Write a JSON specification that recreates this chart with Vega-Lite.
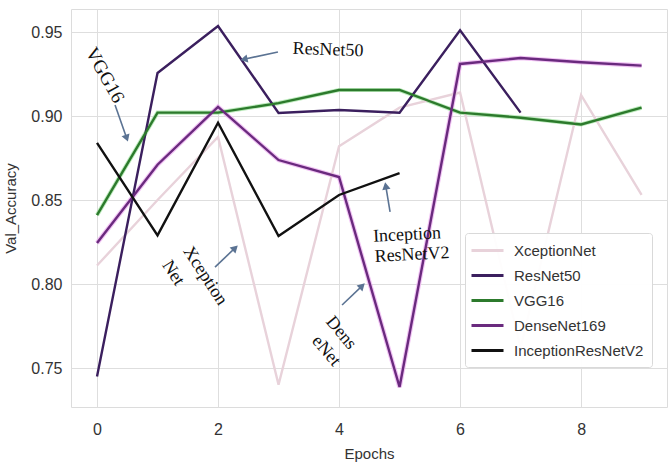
{
  "$schema": "https://vega.github.io/schema/vega-lite/v6.json",
  "width": 596,
  "height": 398,
  "autosize": {"type": "none"},
  "padding": {"left": 71, "top": 9, "right": 1, "bottom": 56},
  "background": "white",
  "datasets": {
    "acc": [
      {"epoch": 0, "model": "XceptionNet", "acc": 0.811},
      {"epoch": 1, "model": "XceptionNet", "acc": 0.850},
      {"epoch": 2, "model": "XceptionNet", "acc": 0.8875},
      {"epoch": 3, "model": "XceptionNet", "acc": 0.740},
      {"epoch": 4, "model": "XceptionNet", "acc": 0.882},
      {"epoch": 5, "model": "XceptionNet", "acc": 0.905},
      {"epoch": 6, "model": "XceptionNet", "acc": 0.914},
      {"epoch": 7, "model": "XceptionNet", "acc": 0.762},
      {"epoch": 8, "model": "XceptionNet", "acc": 0.9125},
      {"epoch": 9, "model": "XceptionNet", "acc": 0.853},
      {"epoch": 0, "model": "ResNet50", "acc": 0.745},
      {"epoch": 1, "model": "ResNet50", "acc": 0.9256},
      {"epoch": 2, "model": "ResNet50", "acc": 0.9536},
      {"epoch": 3, "model": "ResNet50", "acc": 0.9018},
      {"epoch": 4, "model": "ResNet50", "acc": 0.9036},
      {"epoch": 5, "model": "ResNet50", "acc": 0.902},
      {"epoch": 6, "model": "ResNet50", "acc": 0.951},
      {"epoch": 7, "model": "ResNet50", "acc": 0.902},
      {"epoch": 0, "model": "VGG16", "acc": 0.841},
      {"epoch": 1, "model": "VGG16", "acc": 0.902},
      {"epoch": 2, "model": "VGG16", "acc": 0.902},
      {"epoch": 3, "model": "VGG16", "acc": 0.9077},
      {"epoch": 4, "model": "VGG16", "acc": 0.9155},
      {"epoch": 5, "model": "VGG16", "acc": 0.9155},
      {"epoch": 6, "model": "VGG16", "acc": 0.902},
      {"epoch": 7, "model": "VGG16", "acc": 0.899},
      {"epoch": 8, "model": "VGG16", "acc": 0.895},
      {"epoch": 9, "model": "VGG16", "acc": 0.905},
      {"epoch": 0, "model": "DenseNet169", "acc": 0.8244},
      {"epoch": 1, "model": "DenseNet169", "acc": 0.871},
      {"epoch": 2, "model": "DenseNet169", "acc": 0.9054},
      {"epoch": 3, "model": "DenseNet169", "acc": 0.8738},
      {"epoch": 4, "model": "DenseNet169", "acc": 0.8637},
      {"epoch": 5, "model": "DenseNet169", "acc": 0.7387},
      {"epoch": 6, "model": "DenseNet169", "acc": 0.931},
      {"epoch": 7, "model": "DenseNet169", "acc": 0.9345},
      {"epoch": 8, "model": "DenseNet169", "acc": 0.932},
      {"epoch": 9, "model": "DenseNet169", "acc": 0.930},
      {"epoch": 0, "model": "InceptionResNetV2", "acc": 0.884},
      {"epoch": 1, "model": "InceptionResNetV2", "acc": 0.829},
      {"epoch": 2, "model": "InceptionResNetV2", "acc": 0.896},
      {"epoch": 3, "model": "InceptionResNetV2", "acc": 0.8286},
      {"epoch": 4, "model": "InceptionResNetV2", "acc": 0.853},
      {"epoch": 5, "model": "InceptionResNetV2", "acc": 0.866}
    ],
    "arrows": [
      {"x": 2.99, "y": 0.9381, "x2": 2.428, "y2": 0.9338, "heading": 258},
      {"x": 0.298, "y": 0.9065, "x2": 0.491, "y2": 0.8868, "heading": 161},
      {"x": 1.95, "y": 0.8101, "x2": 2.283, "y2": 0.8215, "heading": 46},
      {"x": 4.05, "y": 0.7875, "x2": 4.382, "y2": 0.7989, "heading": 46},
      {"x": 4.843, "y": 0.8429, "x2": 4.772, "y2": 0.8584, "heading": 350}
    ]
  },
  "encoding": {
    "x": {
      "field": "epoch", "type": "quantitative",
      "scale": {"domain": [-0.43, 9.42], "nice": false, "zero": false},
      "axis": {"values": [0, 2, 4, 6, 8], "title": "Epochs", "titlePadding": 9, "labelPadding": 14}
    },
    "y": {
      "field": "acc", "type": "quantitative",
      "scale": {"domain": [0.7268, 0.9637], "nice": false, "zero": false},
      "axis": {"values": [0.75, 0.8, 0.85, 0.9, 0.95], "format": ".2f", "title": "Val_Accuracy", "titlePadding": 12, "labelPadding": 9}
    }
  },
  "layer": [
    {
      "data": {"name": "acc"},
      "transform": [{"filter": "datum.model === 'DenseNet169'"}],
      "mark": {"type": "line", "color": "#eeb8f2", "strokeWidth": 4.6, "opacity": 0.85}
    },
    {
      "data": {"name": "acc"},
      "transform": [{"filter": "datum.model === 'VGG16'"}],
      "mark": {"type": "line", "color": "#9fe39f", "strokeWidth": 4.2, "opacity": 0.7}
    },
    {
      "data": {"name": "acc"},
      "mark": {"type": "line", "strokeWidth": 2.4},
      "encoding": {
        "color": {
          "field": "model", "type": "nominal",
          "scale": {
            "domain": ["XceptionNet", "ResNet50", "VGG16", "DenseNet169", "InceptionResNetV2"],
            "range": ["#e8d2da", "#3b1f5e", "#2c7a2c", "#6a2a7e", "#111111"]
          },
          "legend": {
            "title": null,
            "orient": "none",
            "legendX": 394,
            "legendY": 224,
            "padding": 8,
            "rowPadding": 7,
            "symbolType": "M-1.375,0L2.625,0",
            "symbolSize": 256,
            "symbolStrokeWidth": 3,
            "symbolFillColor": "transparent",
            "labelFontSize": 15,
            "labelOffset": 22,
            "labelColor": "#333333",
            "labelFont": "Liberation Sans",
            "labelLimit": 300,
            "fillColor": "rgba(255,255,255,0.95)",
            "strokeColor": "#d9d9d9",
            "cornerRadius": 3
          }
        }
      }
    },
    {
      "data": {"name": "arrows"},
      "mark": {"type": "rule", "color": "#5b7393", "strokeWidth": 1.6},
      "encoding": {
        "x": {"field": "x", "type": "quantitative"},
        "y": {"field": "y", "type": "quantitative"},
        "x2": {"field": "x2"},
        "y2": {"field": "y2"}
      }
    },
    {
      "data": {"name": "arrows"},
      "mark": {"type": "point", "shape": "triangle-up", "filled": true, "color": "#5b7393", "size": 70, "opacity": 1},
      "encoding": {
        "x": {"field": "x2", "type": "quantitative"},
        "y": {"field": "y2", "type": "quantitative"},
        "angle": {"field": "heading", "type": "quantitative", "scale": null}
      }
    },
    {
      "data": {"values": [{"x": 3.818, "y": 0.9393, "label": "ResNet50"}]},
      "mark": {"type": "text", "font": "Liberation Serif", "fontSize": 18, "color": "#111111", "align": "center", "baseline": "middle", "angle": 2},
      "encoding": {"x": {"field": "x", "type": "quantitative"}, "y": {"field": "y", "type": "quantitative"}, "text": {"field": "label"}}
    },
    {
      "data": {"values": [{"x": 0.132, "y": 0.9244, "label": "VGG16"}]},
      "mark": {"type": "text", "font": "Liberation Serif", "fontSize": 19, "color": "#111111", "align": "center", "baseline": "middle", "angle": 61},
      "encoding": {"x": {"field": "x", "type": "quantitative"}, "y": {"field": "y", "type": "quantitative"}, "text": {"field": "label"}}
    },
    {
      "data": {"values": [{"x": 1.785, "y": 0.8048, "label": "Xception"}, {"x": 1.256, "y": 0.8065, "label": "Net"}]},
      "mark": {"type": "text", "font": "Liberation Serif", "fontSize": 18, "color": "#111111", "align": "center", "baseline": "middle", "angle": 57},
      "encoding": {"x": {"field": "x", "type": "quantitative"}, "y": {"field": "y", "type": "quantitative"}, "text": {"field": "label"}}
    },
    {
      "data": {"values": [{"x": 4.033, "y": 0.7708, "label": "Dens"}, {"x": 3.785, "y": 0.7601, "label": "eNet"}]},
      "mark": {"type": "text", "font": "Liberation Serif", "fontSize": 18, "color": "#111111", "align": "center", "baseline": "middle", "angle": 50},
      "encoding": {"x": {"field": "x", "type": "quantitative"}, "y": {"field": "y", "type": "quantitative"}, "text": {"field": "label"}}
    },
    {
      "data": {"values": [{"x": 5.124, "y": 0.8292, "label": "Inception"}, {"x": 5.207, "y": 0.8173, "label": "ResNetV2"}]},
      "mark": {"type": "text", "font": "Liberation Serif", "fontSize": 18, "color": "#111111", "align": "center", "baseline": "middle", "angle": -3},
      "encoding": {"x": {"field": "x", "type": "quantitative"}, "y": {"field": "y", "type": "quantitative"}, "text": {"field": "label"}}
    }
  ],
  "config": {
    "view": {"stroke": "#dcdcdc", "strokeWidth": 1},
    "axis": {
      "domain": false,
      "ticks": false,
      "grid": true,
      "gridColor": "#dedede",
      "gridWidth": 1,
      "labelFont": "Liberation Sans",
      "labelFontSize": 16,
      "labelColor": "#333333",
      "titleFont": "Liberation Sans",
      "titleFontSize": 15,
      "titleFontWeight": "normal",
      "titleColor": "#333333"
    }
  }
}
